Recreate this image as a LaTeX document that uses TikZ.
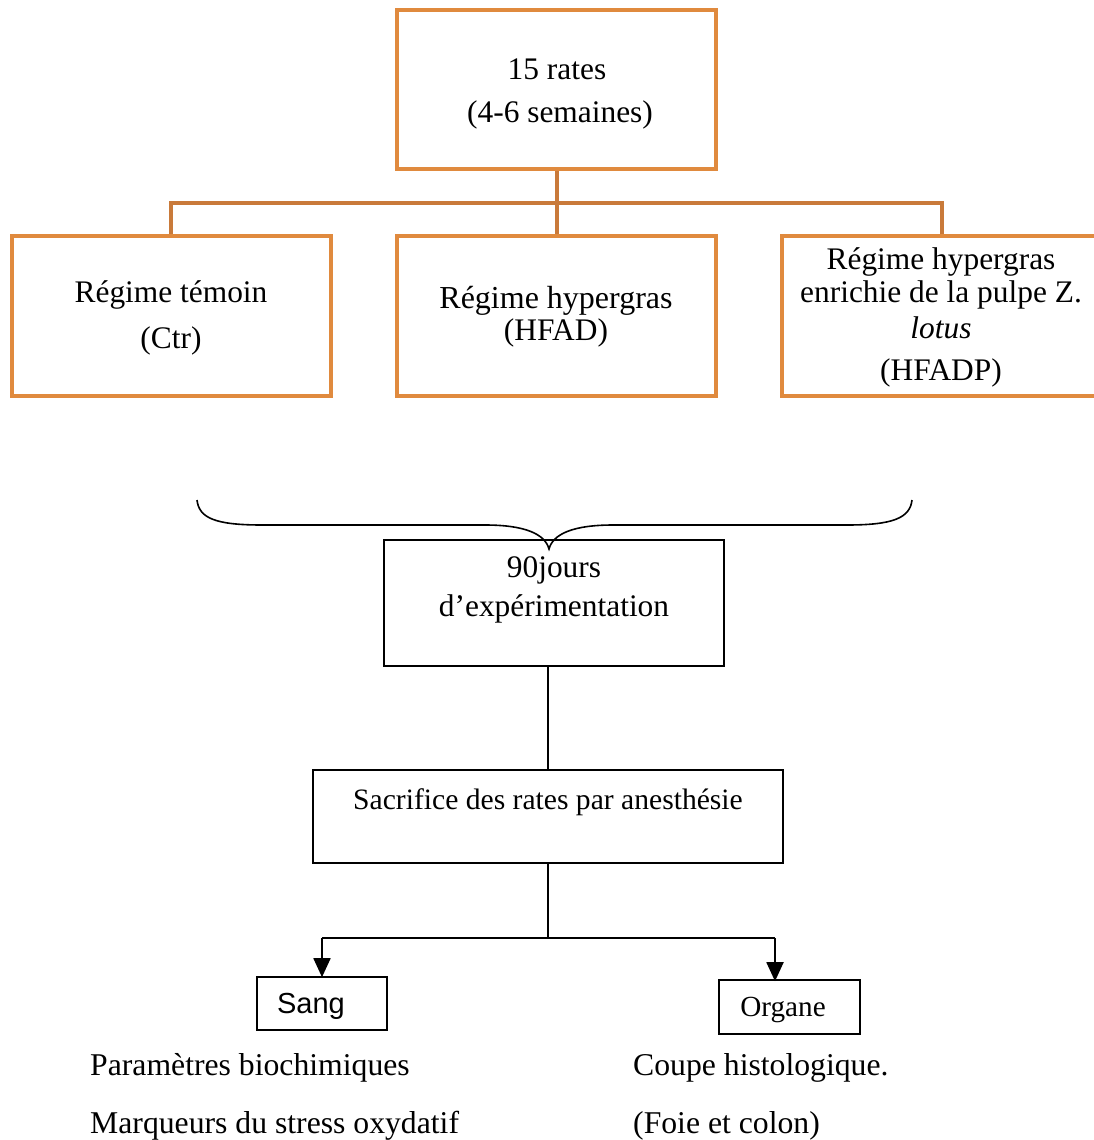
\documentclass[tikz,border=0pt]{standalone}
\usepackage{fontspec}
\setmainfont{Liberation Serif}
\setsansfont{Liberation Sans}
\usetikzlibrary{arrows.meta}
\definecolor{boxorange}{HTML}{E08A3E}
\definecolor{lineorange}{HTML}{C97A3A}
\tikzset{
  obox/.style={draw=boxorange, line width=4pt, rectangle, inner sep=0pt},
  olink/.style={draw=lineorange, line width=4pt},
  kbox/.style={draw=black, line width=1.6pt, rectangle, inner sep=0pt},
  klink/.style={draw=black, line width=1.6pt},
  karrow/.style={draw=black, line width=1.8pt, -{Triangle[length=19pt,width=17pt]}},
  txt/.style={inner sep=0pt, font=\fontsize{31.4}{36}\selectfont},
  btxt/.style={inner sep=0pt, anchor=west, font=\fontsize{31.7}{36}\selectfont},
}
\begin{document}
\begin{tikzpicture}[x=1pt,y=-1pt]
\useasboundingbox (0,0) rectangle (1093,1140);
\fill[white] (0,0) rectangle (1093,1140);
% top box
\node[obox, minimum width=319pt, minimum height=159pt] (top) at (556.5,89.5) {};
\node[txt] (t1) at (557,69) {15 rates};
\node[txt] (t2) at (560,115) {(4-6 semaines)};
% three group boxes
\node[obox, minimum width=319pt, minimum height=160pt] (ctr) at (171.5,316) {};
\node[obox, minimum width=319pt, minimum height=160pt] (hfad) at (556.5,316) {};
\node[obox, minimum width=320pt, minimum height=160pt] (hfadp) at (942,316) {};
\node[txt] (c1) at (171,295) {Régime témoin};
\node[txt] (c2) at (171,341) {(Ctr)};
\node[txt, font=\fontsize{32}{36}\selectfont] (h1) at (556,301) {Régime hypergras};
\node[txt] (h2) at (556,333) {(HFAD)};
\node[txt] (p1) at (941,262) {Régime hypergras};
\node[txt] (p2) at (941,295) {enrichie de la pulpe Z.};
\node[txt] (p3) at (941,328) {\itshape lotus};
\node[txt] (p4) at (941,373) {(HFADP)};
% orange connectors
\coordinate (hl) at (171,203);
\coordinate (hr) at (942,203);
\draw[olink] (top.south) -- (hfad.north);
\draw[olink] (ctr.north -| hl) -- (hl) -- (hr) -- (hfadp.north -| hr);
% brace
\coordinate (bl) at (197,500);
\coordinate (br) at (912,500);
\coordinate (btip) at (549,549);
\draw[black, line width=1.6pt] (bl) .. controls (199,518) and (215,525) .. (262,525)
  -- (485,525) .. controls (525,525) and (545,534) .. (btip)
  .. controls (553,534) and (573,525) .. (613,525)
  -- (847,525) .. controls (893,525) and (910,518) .. (br);
% 90 jours
\node[kbox, minimum width=340pt, minimum height=126pt] (jours) at (554,603) {};
\node[txt] (j1) at (554,570) {90jours};
\node[txt] (j2) at (554,609) {d’expérimentation};
% sacrifice
\node[kbox, minimum width=470pt, minimum height=93pt] (sac) at (548,816.5) {};
\node[txt, font=\fontsize{29.6}{34}\selectfont] (s1) at (548,802) {Sacrifice des rates par anesthésie};
\draw[klink] (jours.south -| sac.north) -- (sac.north);
% split
\coordinate (sp) at (548,938);
\coordinate (spl) at (322,938);
\coordinate (spr) at (775,938);
\node[kbox, minimum width=130pt, minimum height=53pt] (sang) at (322,1003.5) {};
\node[inner sep=0pt, font=\sffamily\fontsize{29}{34}\selectfont] (sangt) at (311,1006) {Sang};
\node[kbox, minimum width=141pt, minimum height=54pt] (org) at (789.5,1007) {};
\node[txt, font=\fontsize{29.2}{34}\selectfont] (orgt) at (783,1010) {Organe};
\draw[klink] (sac.south) -- (sp);
\draw[klink] (spl) -- (spr);
\draw[karrow] (spl) -- ([yshift=-1pt]spl |- sang.north);
\draw[karrow] (spr) -- ([yshift=-2pt]spr |- org.north);
% bottom texts
\node[btxt] (b1) at (90,1068) {Paramètres biochimiques};
\node[btxt] (b2) at (90,1126) {Marqueurs du stress oxydatif};
\node[btxt] (b3) at (633,1068) {Coupe histologique.};
\node[btxt] (b4) at (633,1126) {(Foie et colon)};
\end{tikzpicture}
\end{document}
